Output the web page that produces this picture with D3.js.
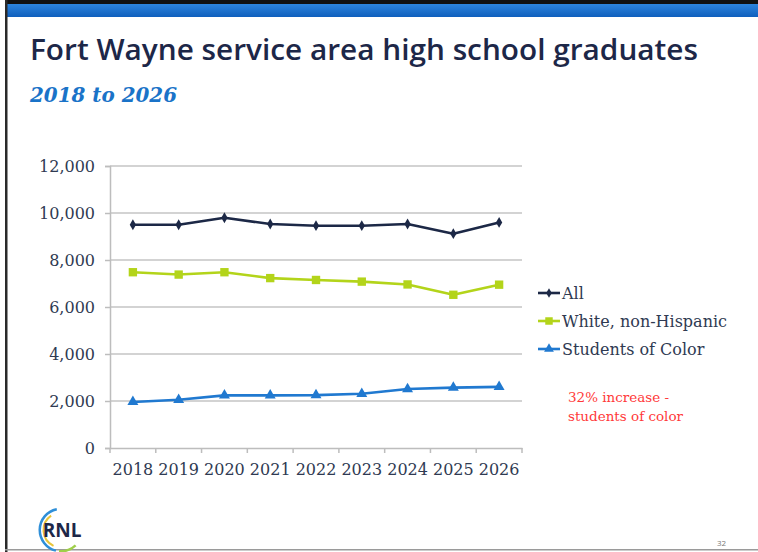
<!DOCTYPE html>
<html>
<head>
<meta charset="utf-8">
<script src="https://cdn.jsdelivr.net/npm/d3@7"></script>
<style>
  html, body { margin: 0; padding: 0; background: #ffffff; }
  svg { display: block; }
</style>
</head>
<body>
<svg id="slide" width="758" height="552"></svg>
<script>
// Graduates by year, Fort Wayne service area
const years = ["2018", "2019", "2020", "2021", "2022", "2023", "2024", "2025", "2026"];
const allGrads = [9500, 9500, 9800, 9530, 9460, 9460, 9530, 9120, 9600];
const whiteNonHispanic = [7480, 7380, 7480, 7230, 7150, 7080, 6960, 6520, 6950];
const studentsOfColor = [1960, 2050, 2240, 2240, 2250, 2310, 2510, 2570, 2600];
const yTicks = [0, 2000, 4000, 6000, 8000, 10000, 12000];
const seriesNames = ["All", "White, non-Hispanic", "Students of Color"];
const noteLines = ["32% increase -", "students of color"];

const series = [
  { name: seriesNames[0], values: allGrads, color: "#1c2846", shape: d3.symbolDiamond, size: 34 },
  { name: seriesNames[1], values: whiteNonHispanic, color: "#b3d41a", shape: d3.symbolSquare, size: 70 },
  { name: seriesNames[2], values: studentsOfColor, color: "#2079d0", shape: d3.symbolTriangle, size: 52 }
];

const svg = d3.select("#slide");
const W = 758, H = 552;
const serif = "'DejaVu Serif', serif";
const labelColor = "#2f3a52";

// slide frame and header band
const defs = svg.append("defs");
const grad = defs.append("linearGradient").attr("id", "band").attr("x1", 0).attr("y1", 0).attr("x2", 0).attr("y2", 1);
grad.append("stop").attr("offset", "0%").attr("stop-color", "#2d84dc");
grad.append("stop").attr("offset", "100%").attr("stop-color", "#0f5fbd");

svg.append("rect").attr("x", 0).attr("y", 0).attr("width", W).attr("height", H).attr("fill", "#ffffff");
svg.append("rect").attr("x", 5).attr("y", 0).attr("width", W - 5).attr("height", 4).attr("fill", "#111111");
svg.append("rect").attr("x", 5).attr("y", 4).attr("width", W - 5).attr("height", 13).attr("fill", "url(#band)");
svg.append("rect").attr("x", 5).attr("y", 0).attr("width", 2.5).attr("height", H).attr("fill", "#2a2a2a");
svg.append("rect").attr("x", 5).attr("y", 549).attr("width", W - 5).attr("height", 1.5).attr("fill", "#9a9a9a");

// title and subtitle
const title = svg.append("text")
  .attr("x", 30).attr("y", 60)
  .attr("font-family", "'Open Sans', sans-serif")
  .attr("font-weight", 600)
  .attr("font-size", 29)
  .attr("fill", "#1d2748")
  .text("Fort Wayne service area high school graduates");
title.attr("textLength", 668).attr("lengthAdjust", "spacingAndGlyphs");

svg.append("text")
  .attr("x", 30).attr("y", 102)
  .attr("font-family", serif)
  .attr("font-weight", "bold")
  .attr("font-style", "italic")
  .attr("font-size", 21)
  .attr("fill", "#1a73c8")
  .attr("textLength", 147).attr("lengthAdjust", "spacingAndGlyphs")
  .text("2018 to 2026");

// plot area
const plot = { left: 110, right: 522, top: 166, bottom: 448 };
const x = d3.scaleBand().domain(years).range([plot.left, plot.right]).padding(0);
const y = d3.scaleLinear().domain([0, 12000]).range([plot.bottom, plot.top]);
const cx = d => x(d) + x.bandwidth() / 2;

// horizontal gridlines
svg.append("g").selectAll("line").data(yTicks.filter(t => t > 0)).join("line")
  .attr("x1", plot.left).attr("x2", plot.right)
  .attr("y1", d => y(d)).attr("y2", d => y(d))
  .attr("stroke", "#c4c4c4").attr("stroke-width", 1.5);

// y axis
const yAxis = svg.append("g").attr("transform", `translate(${plot.left},0)`)
  .call(d3.axisLeft(y).tickValues(yTicks).tickSize(5).tickPadding(10).tickFormat(d3.format(",")));
yAxis.select(".domain").attr("stroke", "#bdbdbd").attr("stroke-width", 1.5);
yAxis.selectAll(".tick line").attr("stroke", "#bdbdbd").attr("stroke-width", 1.5);
yAxis.selectAll("text").attr("font-family", serif).attr("font-size", 16).attr("fill", labelColor);

// x axis: labels centred in each band, tick marks on band edges
const xAxis = svg.append("g").attr("transform", `translate(0,${plot.bottom})`)
  .call(d3.axisBottom(x).tickSize(0).tickPadding(16));
xAxis.select(".domain").attr("stroke", "#bdbdbd").attr("stroke-width", 1.5);
xAxis.selectAll("text").attr("font-family", serif).attr("font-size", 16).attr("fill", labelColor);
const edges = years.map(d => x(d)).concat([x(years[years.length - 1]) + x.bandwidth()]);
svg.append("g").selectAll("line").data(edges).join("line")
  .attr("x1", d => d).attr("x2", d => d)
  .attr("y1", plot.bottom).attr("y2", plot.bottom + 5)
  .attr("stroke", "#bdbdbd").attr("stroke-width", 1.5);

// series lines and markers
const line = d3.line().x((d, i) => cx(years[i])).y(d => y(d));
series.forEach(s => {
  svg.append("path").datum(s.values)
    .attr("d", line)
    .attr("fill", "none")
    .attr("stroke", s.color)
    .attr("stroke-width", 2.6)
    .attr("stroke-linejoin", "round");
  svg.append("g").selectAll("path").data(s.values).join("path")
    .attr("transform", (d, i) => `translate(${cx(years[i])},${y(d)})`)
    .attr("d", d3.symbol().type(s.shape).size(s.size))
    .attr("fill", s.color);
});

// legend
const legend = svg.append("g");
series.forEach((s, i) => {
  const ly = 293 + i * 28;
  legend.append("line").attr("x1", 538).attr("x2", 560).attr("y1", ly).attr("y2", ly)
    .attr("stroke", s.color).attr("stroke-width", 2.6);
  legend.append("path").attr("transform", `translate(549,${ly})`)
    .attr("d", d3.symbol().type(s.shape).size(s.size * 0.8)).attr("fill", s.color);
  legend.append("text").attr("x", 562).attr("y", ly).attr("dy", "0.36em")
    .attr("font-family", serif).attr("font-size", 16).attr("fill", labelColor)
    .text(s.name);
});

// note
svg.append("g").selectAll("text").data(noteLines).join("text")
  .attr("x", 568).attr("y", (d, i) => 402 + i * 19)
  .attr("font-family", serif).attr("font-size", 13.5).attr("fill", "#ff3a3a")
  .text(d => d);

// RNL mark
const logo = svg.append("g").attr("transform", "translate(61,530)");
const arc = d3.arc();
logo.append("path").attr("d", arc({ innerRadius: 20, outerRadius: 22.5, startAngle: -2.9, endAngle: -0.2 }))
  .attr("fill", "#2f8fd8");
logo.append("path").attr("d", arc({ innerRadius: 16.5, outerRadius: 18.5, startAngle: -2.7, endAngle: -0.6 }))
  .attr("fill", "#e8c53a");
logo.append("path").attr("d", arc({ innerRadius: 20, outerRadius: 22.5, startAngle: -3.9, endAngle: -3.05 }))
  .attr("fill", "#9fcf4a");
logo.append("text").attr("x", 1).attr("y", 7)
  .attr("text-anchor", "middle")
  .attr("font-family", "'Open Sans', sans-serif").attr("font-weight", 700).attr("font-size", 19)
  .attr("fill", "#1d2748").text("RNL");

// page number
svg.append("text").attr("x", 717).attr("y", 546)
  .attr("font-family", "'Open Sans', sans-serif").attr("font-size", 8).attr("fill", "#777777")
  .text("32");
</script>
</body>
</html>
